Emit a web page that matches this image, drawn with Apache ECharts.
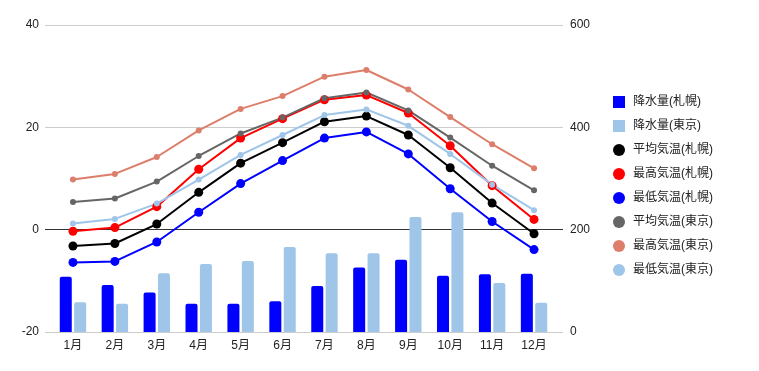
<!DOCTYPE html>
<html><head><meta charset="utf-8">
<script src="https://cdn.jsdelivr.net/npm/echarts@6/dist/echarts.min.js"></script>
<style>html,body{margin:0;padding:0;background:#fff}#c{width:759px;height:371px}</style>
</head><body><div id="c"></div>
<script>
const months = ['1月','2月','3月','4月','5月','6月','7月','8月','9月','10月','11月','12月'];
const precipSapporo = [108, 92, 77, 55, 55, 60, 90, 126, 141, 110, 113, 114];
const precipTokyo = [58, 55, 115, 133, 139, 166, 154, 154, 225, 234, 96, 57];
const avgSapporo = [-3.2, -2.7, 1.1, 7.3, 13.0, 17.0, 21.1, 22.2, 18.5, 12.1, 5.2, -0.8];
const highSapporo = [-0.3, 0.4, 4.5, 11.8, 17.9, 21.7, 25.4, 26.3, 22.8, 16.4, 8.6, 2.0];
const lowSapporo = [-6.4, -6.2, -2.4, 3.4, 9.0, 13.5, 17.9, 19.1, 14.8, 8.0, 1.6, -3.9];
const avgTokyo = [5.4, 6.1, 9.4, 14.4, 18.8, 21.9, 25.7, 26.8, 23.3, 18.0, 12.5, 7.7];
const highTokyo = [9.8, 10.9, 14.2, 19.4, 23.6, 26.1, 29.9, 31.2, 27.4, 22.0, 16.7, 12.0];
const lowTokyo = [1.2, 2.1, 5.1, 9.8, 14.6, 18.5, 22.4, 23.5, 20.3, 14.8, 8.8, 3.8];

const FONT = "'Liberation Sans', Arial, 'Noto Sans CJK JP', sans-serif";
const chart = echarts.init(document.getElementById('c'), null, {renderer: 'canvas'});

function lineSeries(name, data, color, size) {
  return {
    name, type: 'line', data, xAxisIndex: 1, yAxisIndex: 2,
    symbol: 'circle', symbolSize: size, showSymbol: true,
    itemStyle: {color}, lineStyle: {color, width: 2}
  };
}

chart.setOption({
  animation: false,
  textStyle: {fontFamily: FONT},
  grid: [
    {left: 45, right: 196, top: 25, bottom: 39},
    {left: 52, right: 204, top: 25, bottom: 39}
  ],
  xAxis: [
    {type: 'value', gridIndex: 0, min: 0, max: 1, show: false},
    {type: 'category', gridIndex: 1, data: months, boundaryGap: true,
     axisLine: {show: false}, axisTick: {show: false},
     axisLabel: {color: '#222', fontSize: 12, margin: 8, fontFamily: FONT}}
  ],
  yAxis: [
    {type: 'value', gridIndex: 0, position: 'left', min: -20, max: 40, interval: 20,
     axisLine: {show: false}, axisTick: {show: false},
     axisLabel: {color: '#222', fontSize: 12, margin: 6, fontFamily: FONT},
     splitLine: {show: true, lineStyle: {color: ['#cccccc', '#333333', '#cccccc', '#cccccc'], width: 1}}},
    {type: 'value', gridIndex: 0, position: 'right', min: 0, max: 600, interval: 200,
     axisLine: {show: false}, axisTick: {show: false},
     axisLabel: {color: '#222', fontSize: 12, margin: 7, fontFamily: FONT},
     splitLine: {show: false}},
    {type: 'value', gridIndex: 1, position: 'left', min: -20, max: 40, interval: 20, show: false, splitLine: {show: false}},
    {type: 'value', gridIndex: 1, position: 'right', min: 0, max: 600, interval: 200, show: false, splitLine: {show: false}}
  ],
  legend: {
    orient: 'vertical', left: 608, top: 91, itemWidth: 12, itemHeight: 12, itemGap: 12,
    textStyle: {color: '#222', fontSize: 12, fontFamily: FONT, padding: [0, 0, 0, 3]},
    data: [
      {name: '降水量(札幌)', icon: 'rect'},
      {name: '降水量(東京)', icon: 'rect'},
      {name: '平均気温(札幌)', icon: 'circle'},
      {name: '最高気温(札幌)', icon: 'circle'},
      {name: '最低気温(札幌)', icon: 'circle'},
      {name: '平均気温(東京)', icon: 'circle'},
      {name: '最高気温(東京)', icon: 'circle'},
      {name: '最低気温(東京)', icon: 'circle'}
    ]
  },
  series: [
    {name: '降水量(札幌)', type: 'bar', data: precipSapporo, xAxisIndex: 1, yAxisIndex: 3,
     barWidth: 12, barGap: '20%', itemStyle: {color: '#0000ff', borderRadius: [2, 2, 0, 0]}},
    {name: '降水量(東京)', type: 'bar', data: precipTokyo, xAxisIndex: 1, yAxisIndex: 3,
     barWidth: 12, barGap: '20%', itemStyle: {color: '#9fc5e8', borderRadius: [2, 2, 0, 0]}},
    lineSeries('平均気温(札幌)', avgSapporo, '#000000', 9),
    lineSeries('最高気温(札幌)', highSapporo, '#ff0000', 9),
    lineSeries('最低気温(札幌)', lowSapporo, '#0000ff', 9),
    lineSeries('平均気温(東京)', avgTokyo, '#666666', 6),
    lineSeries('最高気温(東京)', highTokyo, '#dd7e6b', 6),
    lineSeries('最低気温(東京)', lowTokyo, '#9fc5e8', 6)
  ]
});
</script>
</body></html>
